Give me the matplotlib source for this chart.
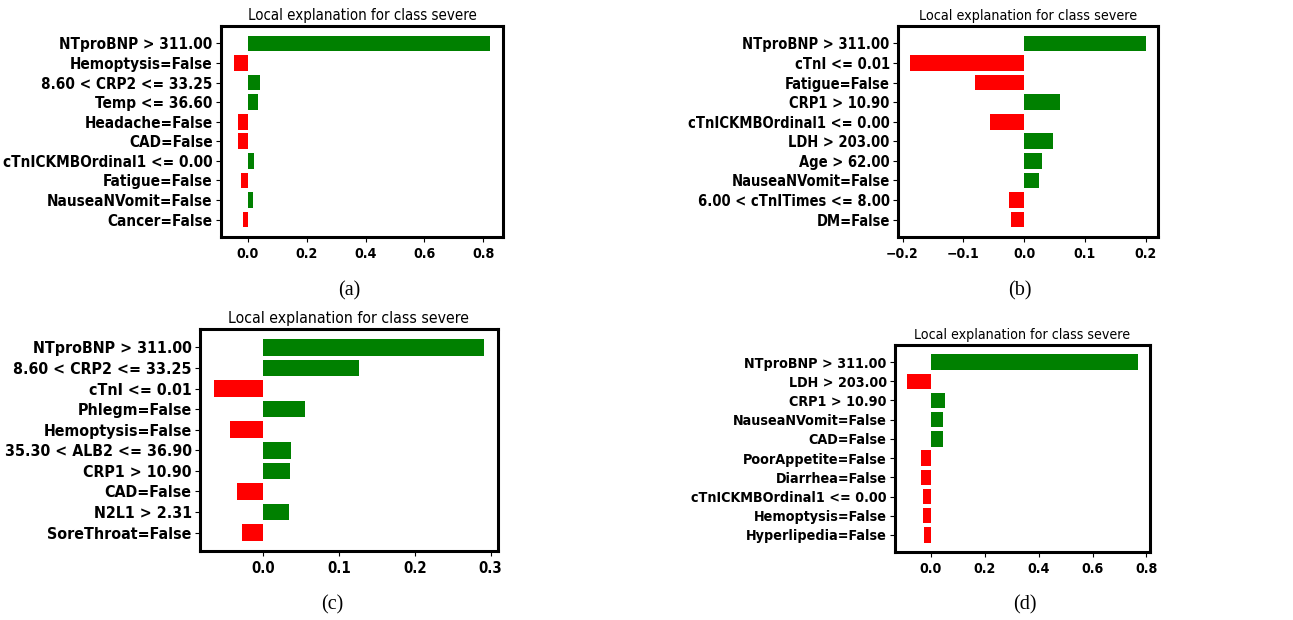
import matplotlib
matplotlib.use('Agg')
from matplotlib import pyplot as plt
from matplotlib import font_manager
import numpy as np

# LIME explanations for four patients, features listed top to bottom
labels_a = ['NTproBNP > 311.00', 'Hemoptysis=False', '8.60 < CRP2 <= 33.25',
            'Temp <= 36.60', 'Headache=False', 'CAD=False',
            'cTnICKMBOrdinal1 <= 0.00', 'Fatigue=False', 'NauseaNVomit=False',
            'Cancer=False']
vals_a = [0.823, -0.047, 0.043, 0.034, -0.034, -0.032, 0.023, -0.023, 0.017, -0.016]
xticks_a = [0.0, 0.2, 0.4, 0.6, 0.8]

labels_b = ['NTproBNP > 311.00', 'cTnI <= 0.01', 'Fatigue=False', 'CRP1 > 10.90',
            'cTnICKMBOrdinal1 <= 0.00', 'LDH > 203.00', 'Age > 62.00',
            'NauseaNVomit=False', '6.00 < cTnITimes <= 8.00', 'DM=False']
vals_b = [0.201, -0.188, -0.080, 0.0585, -0.0556, 0.048, 0.0288, 0.0238, -0.0248, -0.022]
xticks_b = [-0.2, -0.1, 0.0, 0.1, 0.2]

labels_c = ['NTproBNP > 311.00', '8.60 < CRP2 <= 33.25', 'cTnI <= 0.01',
            'Phlegm=False', 'Hemoptysis=False', '35.30 < ALB2 <= 36.90',
            'CRP1 > 10.90', 'CAD=False', 'N2L1 > 2.31', 'SoreThroat=False']
vals_c = [0.292, 0.127, -0.0657, 0.0546, -0.0444, 0.0369, 0.0355, -0.035, 0.0342, -0.028]
xticks_c = [0.0, 0.1, 0.2, 0.3]

labels_d = ['NTproBNP > 311.00', 'LDH > 203.00', 'CRP1 > 10.90',
            'NauseaNVomit=False', 'CAD=False', 'PoorAppetite=False',
            'Diarrhea=False', 'cTnICKMBOrdinal1 <= 0.00', 'Hemoptysis=False',
            'Hyperlipedia=False']
vals_d = [0.770, -0.0906, 0.0508, 0.0459, 0.0434, -0.036, -0.036, -0.031, -0.031, -0.0273]
xticks_d = [0.0, 0.2, 0.4, 0.6, 0.8]

captions = ['(a)', '(b)', '(c)', '(d)']

W, H = 1293, 620

# use the condensed cut of DejaVu when it is installed
has_cond = any(f.name == 'DejaVu Sans' and f.stretch == 'condensed'
               for f in font_manager.fontManager.ttflist)
scale = 1.0 if has_cond else 0.9
plt.rcParams['font.family'] = 'DejaVu Sans'
plt.rcParams['font.stretch'] = 'condensed' if has_cond else 'normal'
plt.rcParams['font.weight'] = 'bold'

fig = plt.figure(figsize=(W / 100, H / 100), dpi=100)


def px_axes(left, top, right, bottom):
    return fig.add_axes([left / W, 1 - bottom / H, (right - left) / W, (bottom - top) / H])


def explain(ax, labels, vals, xticks, ysize, tsize, xsize):
    pos = np.arange(len(vals))
    v = vals[::-1]
    colors = ['green' if x > 0 else 'red' for x in v]
    ax.barh(pos, v, color=colors, height=0.8)
    ax.set_yticks(pos, labels[::-1])
    ax.set_xticks(xticks)
    ax.tick_params(axis='y', labelsize=ysize * scale, pad=2.5)
    ax.tick_params(axis='x', labelsize=xsize * scale)
    ax.set_title('Local explanation for class severe', fontsize=tsize * scale,
                 fontweight='normal', pad=4)
    for s in ax.spines.values():
        s.set_linewidth(2.2)


ax_a = px_axes(221, 26, 503, 237)
explain(ax_a, labels_a, vals_a, xticks_a, 11.0, 10.8, 10.2)
ax_b = px_axes(898, 26, 1158, 237)
explain(ax_b, labels_b, vals_b, xticks_b, 10.5, 10.3, 10.0)
ax_c = px_axes(200, 329, 498, 551)
explain(ax_c, labels_c, vals_c, xticks_c, 11.4, 11.3, 10.7)
ax_d = px_axes(895, 345, 1150, 552)
explain(ax_d, labels_d, vals_d, xticks_d, 10.3, 10.2, 10.2)

cap_pos = [(349, 291), (1020, 291), (332, 605), (1025, 605)]
for c, (x, y) in zip(captions, cap_pos):
    fig.text(x / W, 1 - y / H, c, ha='center', va='center', fontsize=14.5,
             family='Liberation Serif', fontweight='normal', fontstretch='normal')

fig.savefig('out.png', dpi=100, facecolor='white')
